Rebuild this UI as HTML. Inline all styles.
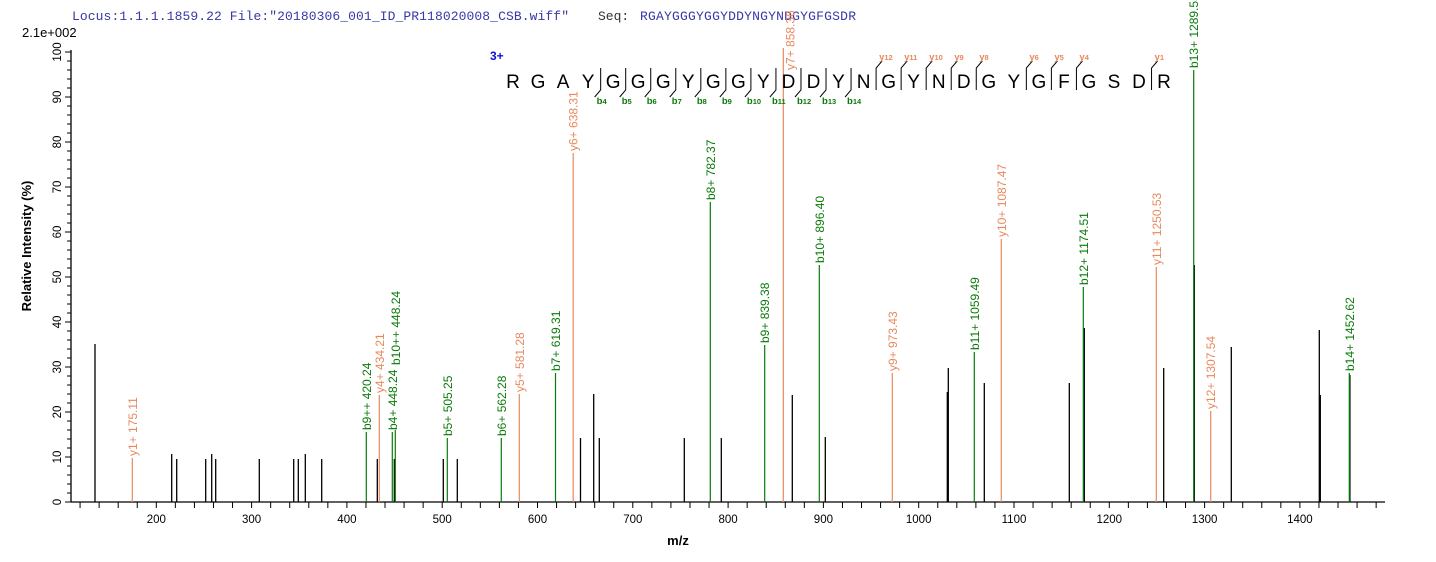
<!DOCTYPE html>
<html><head><meta charset="utf-8"><style>
html,body{margin:0;padding:0;background:#fff;}
svg{display:block;font-family:"Liberation Sans",Arial,sans-serif;}
</style></head><body>
<svg id="s" width="1436" height="562" viewBox="0 0 1436 562" xmlns="http://www.w3.org/2000/svg">
<text x="72" y="20" font-family="Liberation Mono,monospace" font-size="13" textLength="497" fill="#3838a8">Locus:1.1.1.1859.22 File:"20180306_001_ID_PR118020008_CSB.wiff"</text>
<text x="598" y="20" font-family="Liberation Mono,monospace" font-size="13" fill="#333">Seq:</text>
<text x="640" y="20" font-family="Liberation Mono,monospace" font-size="13" textLength="216" fill="#3838a8">RGAYGGGYGGYDDYNGYNDGYGFGSDR</text>
<text x="22" y="37" font-size="13" fill="#000">2.1e+002</text>
<text transform="translate(31,246) rotate(-90)" text-anchor="middle" font-size="13" font-weight="bold">Relative   Intensity (%)</text>
<text x="678" y="545" text-anchor="middle" font-size="13" font-weight="bold">m/z</text>
<text x="490" y="60" font-size="12" font-weight="bold" fill="#1010d0">3+</text>
<g id="g"></g>
</svg>
<script>
var g=document.getElementById('g'),h='';
function X(m){return 156.3+(m-200)*0.953;}
function Y(v){return 502-v*4.5;}
h+='<line x1="71" y1="502" x2="1385" y2="502" stroke="#000" stroke-width="1.3"/>';
h+='<line x1="71" y1="502" x2="71" y2="50" stroke="#000" stroke-width="1.3"/>';
for(var v=0;v<=100;v+=2){var y=Y(v),maj=v%10==0;h+='<line x1="'+(maj?65:67)+'" y1="'+y+'" x2="71" y2="'+y+'" stroke="#000"/>';
 if(maj)h+='<text transform="translate(61,'+y+') rotate(-90)" text-anchor="middle" font-size="11.5">'+v+'</text>';}
for(var m=120;m<=1480;m+=20){var x=X(m);h+='<line x1="'+x+'" y1="502" x2="'+x+'" y2="508" stroke="#000"/>';
 if(m%100==0)h+='<text x="'+x+'" y="523" text-anchor="middle" font-size="11.5">'+m+'</text>';}
var K='#000',G='#0a7a0a',O='#e8885c';
var P=[[95,344,K],[171.7,454,K],[176.7,459,K],[205.7,459,K],[211.7,454,K],[215.7,459,K],[259.3,459,K],[293.7,459,K],[298.3,459,K],[305.3,454,K],[321.7,459,K],[377.3,459,K],[394.3,459,K],[443.3,459,K],[457.3,459,K],[580.5,438,K],[593.7,394,K],[599.3,438,K],[684.3,438,K],[721.3,438,K],[792.3,395,K],[825.3,437,K],[947.3,392,K],[948.3,368,K],[984.3,383,K],[1069.3,383,K],[1084.3,328,K],[1163.7,368,K],[1194.3,265,K],[1231.3,347,K],[1319.3,330,K],[1320.3,395,K],[1349.9,375,K],
[132.3,458,O,'y1+ 175.11'],[366.3,432,G,'b9++ 420.24'],[379.3,395,O,'y4+ 434.21'],[392.3,432,G,'b4+ 448.24'],[395.3,430,G,'b10++ 448.24',365],[447.3,438,G,'b5+ 505.25'],[501.3,438,G,'b6+ 562.28'],[519.3,394,O,'y5+ 581.28'],[555.5,373,G,'b7+ 619.31'],[573.2,153,O,'y6+ 638.31'],[710.3,202,G,'b8+ 782.37'],[764.7,345,G,'b9+ 839.38'],[783.3,48,O,'y7+ 858.36',70,11],[819.3,265,G,'b10+ 896.40'],[892.3,373,O,'y9+ 973.43'],[974.3,352,G,'b11+ 1059.49'],[1001.3,239,O,'y10+ 1087.47'],[1083.3,287,G,'b12+ 1174.51'],[1156.3,267,O,'y11+ 1250.53'],[1193.7,70,G,'b13+ 1289.55'],[1210.7,411,O,'y12+ 1307.54'],[1349.3,373,G,'b14+ 1452.62']];
P.forEach(function(p){h+='<line x1="'+p[0]+'" y1="502" x2="'+p[0]+'" y2="'+p[1]+'" stroke="'+p[2]+'" stroke-width="'+(p[2]==K?1.3:1.2)+'"/>';
 if(p[3]){var b=p.length>4?p[4]:p[1]-2;var dx=p.length>5?p[5]:4.5;h+='<text transform="translate('+(p[0]+dx)+','+b+') rotate(-90)" font-size="12" fill="'+p[2]+'">'+p[3]+'</text>';}});
var s='RGAYGGGYGGYDDYNGYNDGYGFGSDR';
for(var i=0;i<s.length;i++){h+='<text x="'+(513+i*25.04)+'" y="88" text-anchor="middle" font-size="19">'+s[i]+'</text>';}
for(var i=4;i<=14;i++){var x=513+i*25.04-12.5;h+='<polyline points="'+x+',68 '+x+',90 '+(x-6)+',97" fill="none" stroke="#000"/>';
 h+='<text x="'+(x-4)+'" y="104" font-size="9.5" font-weight="bold" fill="'+G+'">b<tspan font-size="7.5">'+i+'</tspan></text>';}
[12,11,10,9,8,6,5,4,1].forEach(function(n){var x=513+(27-n)*25.04-12.5;h+='<polyline points="'+(x+6)+',61 '+x+',68 '+x+',90" fill="none" stroke="#000"/>';
 h+='<text x="'+(x+3)+'" y="60" font-size="9.5" font-weight="bold" fill="'+O+'">y<tspan font-size="7.5">'+n+'</tspan></text>';});
g.innerHTML=h;
</script>
</body></html>
